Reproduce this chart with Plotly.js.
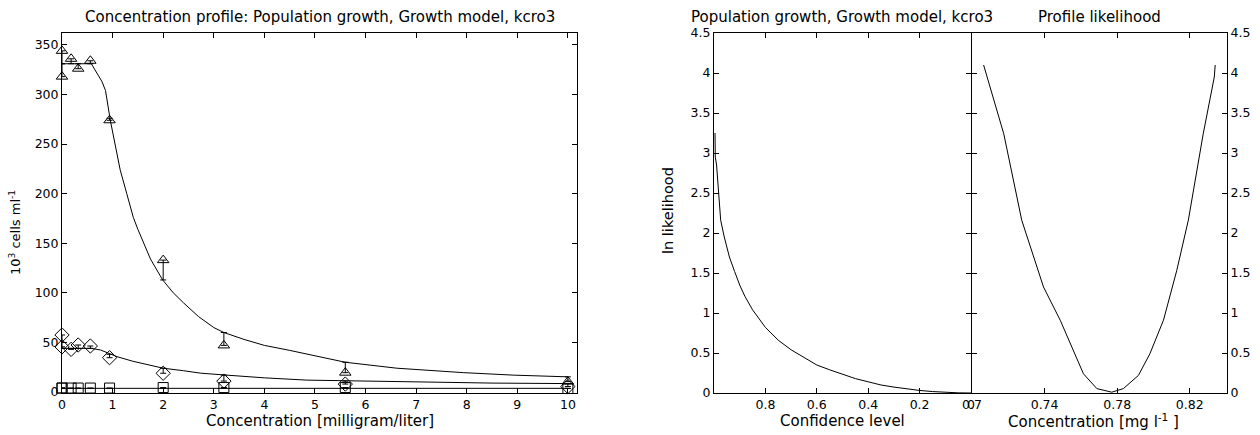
<!DOCTYPE html>
<html>
<head>
<meta charset="utf-8">
<script src="https://cdn.plot.ly/plotly-3.0.1.min.js"></script>
<style>html,body{margin:0;padding:0;background:#fff}</style>
</head>
<body>
<div id="chart" style="width:1260px;height:435px"></div>
<script>
// ---- Concentration profile: observed cell densities (10^3 cells/ml) ----
const obsConc      = [0, 0, 0.18, 0.32, 0.56, 0.94, 2, 3.2, 5.6, 10];
const triangleObs  = [344, 318, 336, 326, 334, 274, 133, 47, 19.5, 10.5];
const triangleFit  = [331, 331, 331, 331, 331, 276, 113, 60, 30, 15.3];
const diamondObs   = [57.5, 45.5, 43, 47.4, 46.4, 34.6, 18.9, 11, 8, 5.5];
const diamondFit   = [44, 44, 44, 44, 44, 38, 24, 17, 11, 8.5];
const squareObs    = [4, 4, 4, 4, 4, 4, 4.5, 4.5, 4.5, 3.5];
const squareFit    = [3.7, 3.7, 3.7, 3.7, 3.7, 3.7, 3.7, 3.7, 3.7, 3.7];

// fitted model curves
const triCurveConc = [0, 0.58, 0.79, 0.86, 0.955, 1.05, 1.15, 1.28, 1.35, 1.41, 1.5, 1.61, 1.75, 1.99, 2.2, 2.4, 2.7, 3.0, 3.2, 3.6, 4.0, 4.5, 4.97, 5.6, 6.62, 7.94, 8.93, 10];
const triCurveVal  = [331, 331, 313, 304, 274, 251, 224, 200, 187, 176, 164, 150, 134, 113, 100, 90, 76, 65, 60, 53, 47, 42, 37, 30, 24, 19.5, 17, 15.3];
const diaCurveConc = [0, 0.58, 0.76, 1.09, 1.4, 1.75, 2.0, 2.4, 2.74, 3.26, 4.0, 4.84, 5.96, 7.28, 8.5, 10];
const diaCurveVal  = [44, 44, 42.4, 35.6, 31, 27, 24, 21.5, 19, 17, 14.3, 12, 11, 9.4, 9, 8.5];
const sqCurveConc  = [0, 10];
const sqCurveVal   = [3.7, 3.7];

// ---- ln likelihood against confidence level ----
const confLevel = [0.996, 0.995, 0.99, 0.98, 0.974, 0.96, 0.95, 0.94, 0.92, 0.90, 0.88, 0.85, 0.80, 0.75, 0.70, 0.65, 0.60, 0.55, 0.50, 0.45, 0.40, 0.35, 0.30, 0.25, 0.20, 0.15, 0.10, 0.05, 0.0];
const confLnL   = [3.25, 2.95, 2.85, 2.45, 2.16, 1.95, 1.82, 1.70, 1.52, 1.35, 1.21, 1.04, 0.82, 0.66, 0.54, 0.44, 0.35, 0.29, 0.23, 0.18, 0.14, 0.10, 0.074, 0.051, 0.032, 0.018, 0.008, 0.002, 0];

// ---- profile likelihood of kcro3 ----
const profConc = [0.7064, 0.7175, 0.7274, 0.7394, 0.7486, 0.7614, 0.7688, 0.777, 0.7834, 0.7917, 0.798, 0.8055, 0.8128, 0.8192, 0.8274, 0.8335, 0.834];
const profLnL  = [4.1, 3.24, 2.16, 1.325, 0.91, 0.24, 0.055, 0.01, 0.055, 0.22, 0.49, 0.91, 1.53, 2.16, 3.24, 3.95, 4.1];

// tick labels
const concTicks  = [0, 1, 2, 3, 4, 5, 6, 7, 8, 9, 10];
const cellTicks  = [0, 50, 100, 150, 200, 250, 300, 350];
const confTicks  = [0.8, 0.6, 0.4, 0.2, 0];
const confLabels = ['0.8', '0.6', '0.4', '0.2', '0'];
const lnlTicks   = [0, 0.5, 1, 1.5, 2, 2.5, 3, 3.5, 4, 4.5];
const lnlLabels  = ['0', '0.5', '1', '1.5', '2', '2.5', '3', '3.5', '4', '4.5'];
const kTicks     = [0.70, 0.74, 0.78, 0.82];
const kLabels    = ['0.7', '0.74', '0.78', '0.82'];

const FONT = 'DejaVu Sans, Arial, sans-serif';
const INK = '#000';

// residual bars from each observation to its fitted value
function residualBars(obs, fit) {
  return {
    type: 'data', symmetric: false,
    array: obs.map((o, i) => Math.max(fit[i] - o, 0)),
    arrayminus: obs.map((o, i) => Math.max(o - fit[i], 0)),
    color: INK, thickness: 1, width: 3
  };
}

function obsTrace(y, fit, symbol, size) {
  return {
    x: obsConc, y: y, type: 'scatter', mode: 'markers', cliponaxis: false,
    marker: {symbol: symbol, size: size, color: INK, line: {color: INK, width: 1}},
    error_y: residualBars(y, fit), xaxis: 'x', yaxis: 'y', hoverinfo: 'x+y'
  };
}

function curveTrace(x, y, xa, ya) {
  return {x: x, y: y, type: 'scatter', mode: 'lines', line: {color: INK, width: 1},
          xaxis: xa, yaxis: ya, cliponaxis: false};
}

const traces = [
  curveTrace(triCurveConc, triCurveVal, 'x', 'y'),
  curveTrace(diaCurveConc, diaCurveVal, 'x', 'y'),
  curveTrace(sqCurveConc, sqCurveVal, 'x', 'y'),
  obsTrace(triangleObs, triangleFit, 'triangle-up-open', 10),
  obsTrace(diamondObs, diamondFit, 'diamond-open', 11),
  obsTrace(squareObs, squareFit, 'square-open', 10),
  curveTrace(confLevel, confLnL, 'x2', 'y2'),
  curveTrace(profConc, profLnL, 'x3', 'y3')
];

const axisBase = {
  showline: true, linecolor: INK, linewidth: 1, mirror: 'ticks',
  ticks: 'inside', ticklen: 5, tickwidth: 1, tickcolor: INK,
  showgrid: false, zeroline: false,
  tickfont: {family: FONT, size: 12.5, color: INK}
};

// plot areas in pixels: left panel 62-577, likelihood panels 714-971 and 972-1227
const dom = {
  x1: [62 / 1260, 577 / 1260],
  x2: [714 / 1260, 971 / 1260],
  x3: [972 / 1260, 1227 / 1260],
  y: [(435 - 393) / 435, (435 - 33) / 435]
};

const layout = {
  width: 1260, height: 435,
  margin: {l: 0, r: 0, t: 0, b: 0},
  paper_bgcolor: '#fff', plot_bgcolor: '#fff',
  showlegend: false,
  font: {family: FONT, color: INK},
  xaxis: Object.assign({}, axisBase, {domain: dom.x1, range: [0, 10.18], tickvals: concTicks, anchor: 'y'}),
  yaxis: Object.assign({}, axisBase, {domain: dom.y, range: [-1, 362], tickvals: cellTicks, anchor: 'x'}),
  xaxis2: Object.assign({}, axisBase, {domain: dom.x2, range: [1, 0], tickvals: confTicks, ticktext: confLabels, anchor: 'y2'}),
  yaxis2: Object.assign({}, axisBase, {domain: dom.y, range: [0, 4.5], tickvals: lnlTicks, ticktext: lnlLabels, anchor: 'x2'}),
  xaxis3: Object.assign({}, axisBase, {domain: dom.x3, range: [0.70, 0.8405], tickvals: kTicks, ticktext: kLabels, anchor: 'y3'}),
  yaxis3: Object.assign({}, axisBase, {domain: dom.y, range: [0, 4.5], tickvals: lnlTicks, ticktext: lnlLabels, anchor: 'x3', side: 'right'}),
  annotations: [
    {text: 'Concentration profile: Population growth, Growth model, kcro3', x: 320, y: 17, size: 15},
    {text: 'Population growth, Growth model, kcro3', x: 842, y: 17, size: 15},
    {text: 'Profile likelihood', x: 1099, y: 17, size: 15},
    {text: 'Concentration [milligram/liter]', x: 320, y: 421, size: 15},
    {text: 'Confidence level', x: 842, y: 421, size: 15},
    {text: 'Concentration [mg l<sup>-1</sup> ]', x: 1093, y: 421, size: 15},
    {text: '10<sup>3</sup> cells ml<sup>-1</sup>', x: 15, y: 233, size: 13, textangle: -90},
    {text: 'ln likelihood', x: 668, y: 211, size: 14.5, textangle: -90}
  ].map(a => ({
    xref: 'paper', yref: 'paper', showarrow: false,
    xanchor: 'center', yanchor: 'middle',
    text: a.text, textangle: a.textangle || 0,
    x: a.x / 1260, y: 1 - a.y / 435,
    font: {family: FONT, size: a.size, color: INK}
  }))
};

Plotly.newPlot('chart', traces, layout, {staticPlot: true, displayModeBar: false});
</script>
</body>
</html>
